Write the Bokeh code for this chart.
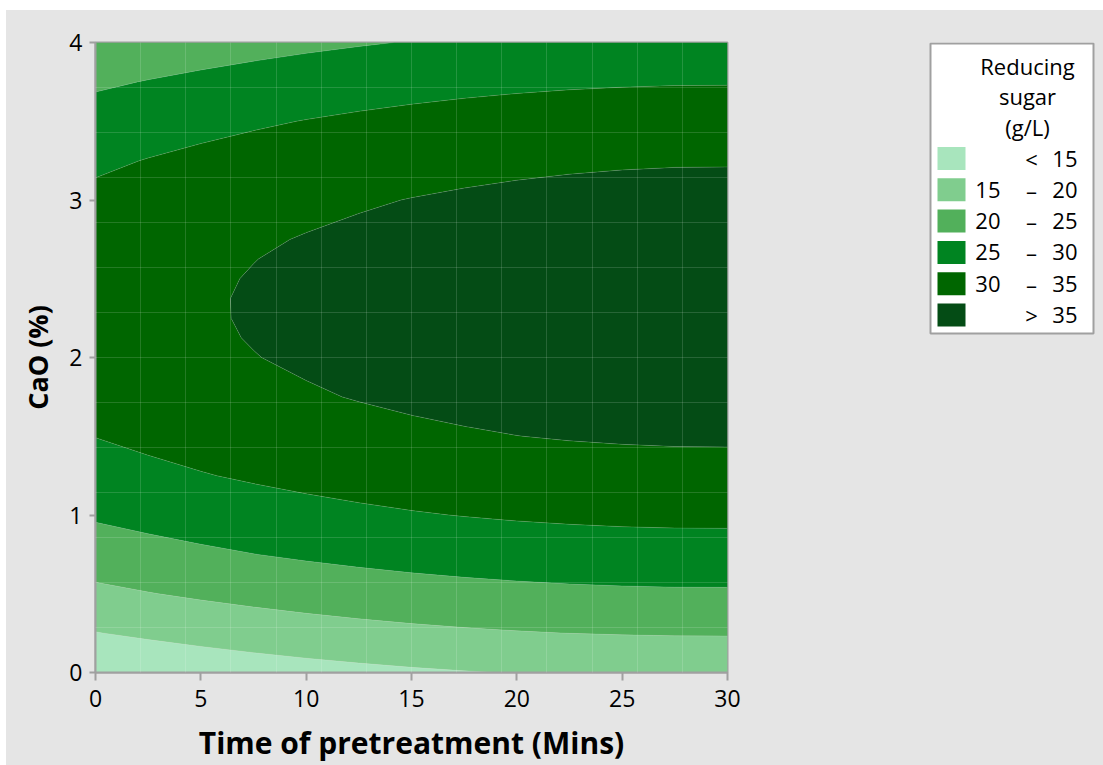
import numpy as np
from bokeh.plotting import figure
from bokeh.layouts import row, column
from bokeh.models import Spacer, Range1d, FixedTicker
from bokeh.embed import file_html
from bokeh.resources import INLINE
from bokeh.core.properties import value

# Response surface grid: pretreatment time (min) x CaO loading (%)
time_min = [0, 2.5, 5, 7.5, 10, 12.5, 15, 17.5, 20, 22.5, 25, 27.5, 30]
cao_pct = [0.0, 0.25, 0.5, 0.75, 1.0, 1.25, 1.5, 1.75, 2.0, 2.125,
           2.25, 2.375, 2.5, 2.625, 2.75, 3.0, 3.25, 3.5, 3.75, 4.0]

# Reducing sugar (g/L); one row per CaO level, one column per time
sugar = [
    [10.24, 11.13, 11.94, 12.67, 13.32, 13.89, 14.39, 14.80, 15.14, 15.40, 15.58, 15.69, 15.71],
    [14.86, 15.75, 16.56, 17.29, 17.94, 18.51, 19.01, 19.42, 19.76, 20.02, 20.20, 20.31, 20.33],
    [18.95, 19.84, 20.65, 21.38, 22.03, 22.60, 23.10, 23.51, 23.85, 24.11, 24.29, 24.40, 24.42],
    [22.52, 23.41, 24.22, 24.95, 25.60, 26.17, 26.67, 27.08, 27.42, 27.68, 27.86, 27.97, 27.99],
    [25.56, 26.45, 27.26, 27.99, 28.64, 29.21, 29.71, 30.12, 30.46, 30.72, 30.90, 31.01, 31.03],
    [28.08, 28.97, 29.78, 30.51, 31.16, 31.73, 32.23, 32.64, 32.98, 33.24, 33.42, 33.53, 33.55],
    [30.07, 30.96, 31.77, 32.50, 33.15, 33.72, 34.22, 34.63, 34.97, 35.23, 35.41, 35.52, 35.54],
    [31.53, 32.42, 33.23, 33.96, 34.61, 35.18, 35.68, 36.09, 36.43, 36.69, 36.87, 36.98, 37.00],
    [32.47, 33.36, 34.17, 34.90, 35.55, 36.12, 36.62, 37.03, 37.37, 37.63, 37.81, 37.92, 37.94],
    [32.74, 33.63, 34.44, 35.17, 35.82, 36.39, 36.89, 37.30, 37.64, 37.90, 38.08, 38.19, 38.21],
    [32.88, 33.77, 34.58, 35.31, 35.96, 36.53, 37.03, 37.44, 37.78, 38.04, 38.22, 38.33, 38.35],
    [32.89, 33.78, 34.59, 35.32, 35.97, 36.54, 37.04, 37.45, 37.79, 38.05, 38.23, 38.34, 38.36],
    [32.76, 33.65, 34.46, 35.19, 35.84, 36.41, 36.91, 37.32, 37.66, 37.92, 38.10, 38.21, 38.23],
    [32.51, 33.40, 34.21, 34.94, 35.59, 36.16, 36.66, 37.07, 37.41, 37.67, 37.85, 37.96, 37.98],
    [32.12, 33.01, 33.82, 34.55, 35.20, 35.77, 36.27, 36.68, 37.02, 37.28, 37.46, 37.57, 37.59],
    [30.95, 31.84, 32.65, 33.38, 34.03, 34.60, 35.10, 35.51, 35.85, 36.11, 36.29, 36.40, 36.42],
    [29.26, 30.15, 30.96, 31.69, 32.34, 32.91, 33.41, 33.82, 34.16, 34.42, 34.60, 34.71, 34.73],
    [27.04, 27.93, 28.74, 29.47, 30.12, 30.69, 31.19, 31.60, 31.94, 32.20, 32.38, 32.49, 32.51],
    [24.29, 25.18, 25.99, 26.72, 27.37, 27.94, 28.44, 28.85, 29.19, 29.45, 29.63, 29.74, 29.76],
    [21.02, 21.91, 22.72, 23.45, 24.10, 24.67, 25.17, 25.58, 25.92, 26.18, 26.36, 26.47, 26.49],
]

# Contour breaks and band colours (lowest band first)
levels = [15, 20, 25, 30, 35]
palette = ["#a8e5bd", "#80cd8e", "#52b05b", "#008421", "#006600", "#044c15"]

x_ticks = [0, 5, 10, 15, 20, 25, 30]
y_ticks = [0, 1, 2, 3, 4]

x_title = "Time of pretreatment (Mins)"
y_title = "CaO (%)"
legend_title = ["Reducing", "sugar", "(g/L)"]

BG = "#e5e5e5"
FRAME = "#a0a0a0"
FONT = "Open Sans"

z = np.array(sugar)
bounds = [0.0] + levels + [100.0]

p = figure(width=894, height=755, x_range=Range1d(0, 30), y_range=Range1d(0, 4),
           toolbar_location=None, output_backend="svg",
           min_border_left=89, min_border_right=173, min_border_top=32, min_border_bottom=93,
           border_fill_color=BG, background_fill_color=BG,
           outline_line_color=FRAME, outline_line_width=2)

p.contour(x=time_min, y=cao_pct, z=z, levels=bounds, fill_color=palette,
          line_color="white", line_alpha=0.14, line_width=1)

# faint tile seams across the surface
p.xgrid.ticker = FixedTicker(ticks=list(np.linspace(0, 30, 15)[1:-1]))
p.ygrid.ticker = FixedTicker(ticks=list(np.linspace(0, 4, 15)[1:-1]))
for g in (p.xgrid, p.ygrid):
    g.grid_line_color = "white"
    g.grid_line_alpha = 0.14
    g.grid_line_width = 1
    g.level = "overlay"

p.xaxis.ticker = FixedTicker(ticks=x_ticks)
p.yaxis.ticker = FixedTicker(ticks=y_ticks)
p.xaxis.axis_label = x_title
p.yaxis.axis_label = y_title
for ax in (p.xaxis, p.yaxis):
    ax.axis_line_color = FRAME
    ax.axis_line_width = 2
    ax.major_tick_line_color = FRAME
    ax.major_tick_line_width = 2
    ax.major_tick_in = 0
    ax.minor_tick_line_color = None
    ax.major_label_text_font = FONT
    ax.major_label_text_font_size = "23px"
    ax.major_label_text_color = "black"
    ax.axis_label_text_font = FONT
    ax.axis_label_text_font_style = "bold"
    ax.axis_label_text_color = "black"
p.xaxis.major_tick_out = 8
p.yaxis.major_tick_out = 6
p.xaxis.axis_label_text_font_size = "30px"
p.yaxis.axis_label_text_font_size = "27px"
p.xaxis.major_label_standoff = 9
p.yaxis.major_label_standoff = 7
p.xaxis.axis_label_standoff = 12
p.yaxis.axis_label_standoff = 10

# Legend panel (coordinates in page pixels; frame spans y 42..672)
p2 = figure(width=203, height=755, x_range=Range1d(900, 1103), y_range=Range1d(672, 42),
            toolbar_location=None, output_backend="svg",
            min_border_left=0, min_border_right=0, min_border_top=32, min_border_bottom=93,
            x_axis_location=None, y_axis_location=None,
            border_fill_color=BG, background_fill_color=None, outline_line_color=None)
p2.grid.visible = False

p2.quad(left=[930], right=[1093], top=[43], bottom=[333],
        fill_color="white", line_color=FRAME, line_width=2)
p2.text(x=[1027] * 3, y=[65, 95, 126], text=legend_title,
        text_align="center", text_baseline="middle",
        text_font=value(FONT), text_font_size="22px", text_color="black")

n = len(palette)
row_y = [158 + 31.3 * i for i in range(n)]
lo_txt, mid_txt, hi_txt = [], [], []
for i in range(n):
    if i == 0:
        lo_txt.append(""); mid_txt.append("<"); hi_txt.append(str(levels[0]))
    elif i == n - 1:
        lo_txt.append(""); mid_txt.append(">"); hi_txt.append(str(levels[-1]))
    else:
        lo_txt.append(str(levels[i - 1])); mid_txt.append("\u2013"); hi_txt.append(str(levels[i]))

p2.rect(x=[951] * n, y=row_y, width=28, height=23, fill_color=palette, line_color=None)
txt = dict(text_baseline="middle", text_font=value(FONT), text_font_size="22px", text_color="black")
p2.text(x=[1000] * n, y=row_y, text=lo_txt, text_align="right", **txt)
p2.text(x=[1031] * n, y=row_y, text=mid_txt, text_align="center", **txt)
p2.text(x=[1077] * n, y=row_y, text=hi_txt, text_align="right", **txt)

panel = row(p, p2, styles={"background-color": BG})
layout = column(Spacer(height=10), row(Spacer(width=6), panel))
open("out.html", "w").write(file_html(layout, INLINE))
